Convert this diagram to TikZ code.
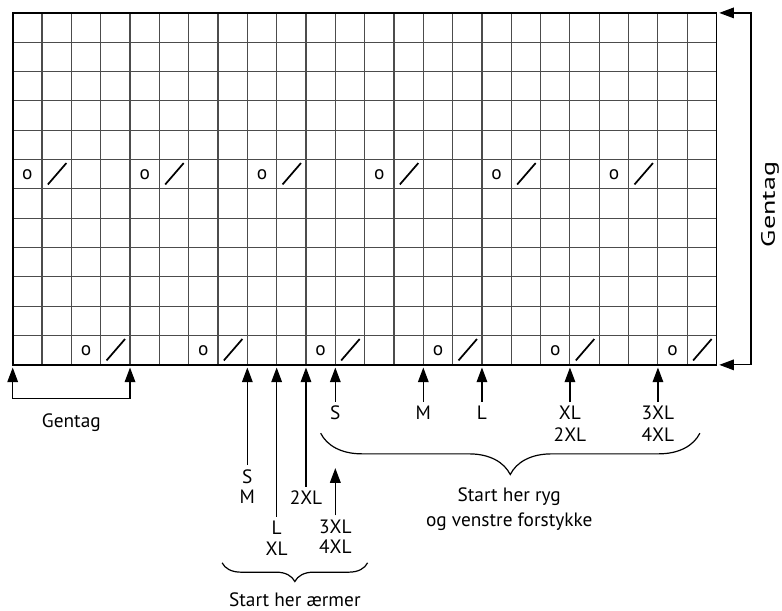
\documentclass[tikz,border=0pt]{standalone}
\usepackage{fontspec}
\setmainfont{PT Sans}
\usetikzlibrary{arrows.meta,decorations.pathreplacing}

\begin{document}
\begin{tikzpicture}[x=22pt,y=22pt,
    font=\fontsize{14.5}{15.5}\selectfont,
    pil/.style={-{Triangle[width=8pt,length=11pt]},line width=0.9pt,shorten >=2pt},
    begge/.style={{Triangle[width=8pt,length=11pt]}-{Triangle[width=8pt,length=11pt]},
      line width=0.9pt,shorten <=2pt,shorten >=2pt},
    maal/.style={align=center,inner sep=3pt},
    tuborg/.style={decorate,decoration={brace,mirror,amplitude=#1},line width=0.9pt}]
  \useasboundingbox (-0.433,-8.39) rectangle (26.23,12.44);
  % chart grid
  \draw[black!70,line width=0.8pt,step=1] (0,0) grid (24,12);
  \draw[line width=1.3pt] (0,0) rectangle (24,12);
  % yarn overs and decreases
  \foreach \c in {0,4,...,20} {
    \node (oa\c) at (\c+0.5,6.5) {o};
    \draw[line width=1.3pt] (\c+1.2,6.15) -- (\c+1.83,6.88);
  }
  \foreach \c in {2,6,...,22} {
    \node (ob\c) at (\c+0.5,0.5) {o};
    \draw[line width=1.3pt] (\c+1.2,0.15) -- (\c+1.83,0.88);
  }
  % repeat rows (right side)
  \coordinate (ne) at (24,12);
  \coordinate (se) at (24,0);
  \draw[begge] (ne) -- ++(1.17,0) |- (se);
  \node[rotate=90,xscale=1.45] (gentagh) at (25.82,5.47) {Gentag};
  % repeat stitches (bottom left)
  \foreach \c in {0,4,8,9,10,11,14,16,19,22}
    \coordinate (b\c) at (\c,0);
  \draw[begge] (b0) -- ++(0,-1.16) -| (b4);
  \node (gentagv) at (2,-1.97) {Gentag};
  % sizes, sleeves
  \node[maal] (sm) at (8,-4.15) {S\\M};
  \node[maal] (lxl) at (9,-5.9) {L\\XL};
  \node[maal] (xxl) at (10,-4.53) {2XL};
  \node[maal] (xxxl) at (11,-5.86) {3XL\\4XL};
  \coordinate (t11) at (11,-3.52);
  \draw[pil] (sm) -- (b8);
  \draw[pil] (lxl) -- (b9);
  \draw[pil] (xxl) -- (b10);
  \draw[pil,shorten >=0pt] (xxxl) -- (t11);
  % sizes, back and left front
  \node[maal] (s) at (11,-1.64) {S};
  \node[maal] (m) at (14,-1.64) {M};
  \node[maal] (l) at (16,-1.64) {L};
  \node[maal,font=\fontsize{14.5}{16.5}\selectfont] (xl) at (19,-2.02) {XL\\2XL};
  \node[maal,font=\fontsize{14.5}{16.5}\selectfont] (xxxlr) at (22,-2.02) {3XL\\4XL};
  \draw[pil] (s) -- (b11);
  \draw[pil] (m) -- (b14);
  \draw[pil] (l) -- (b16);
  \draw[pil] (xl) -- (b19);
  \draw[pil] (xxxlr) -- (b22);
  % braces
  \draw[tuborg=31pt] (10.5,-2.33) -- (23.43,-2.33);
  \draw[tuborg=14pt] (7.14,-6.75) -- (12.1,-6.75);
  \node[align=center,font=\fontsize{14.5}{18.75}\selectfont] (ryg) at (16.93,-4.92)
    {Start her ryg\\og venstre forstykke};
  \node (aermer) at (9.62,-8.01) {Start her ærmer};
\end{tikzpicture}
\end{document}
